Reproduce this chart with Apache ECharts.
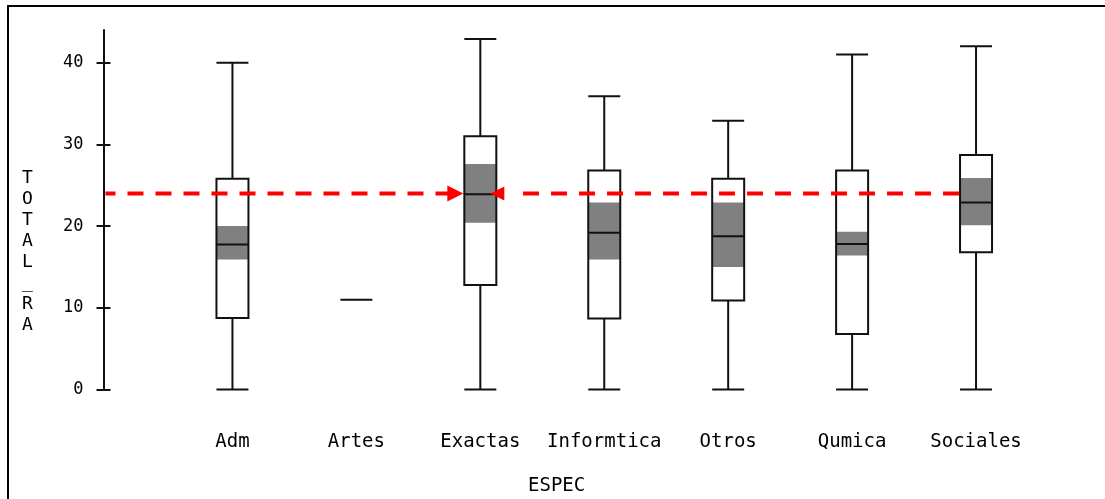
<!DOCTYPE html>
<html>
<head>
<meta charset="utf-8">
<script src="https://cdn.jsdelivr.net/npm/echarts@6/dist/echarts.min.js"></script>
<style>
html,body{margin:0;padding:0;background:#fff;}
#chart{width:1105px;height:499px;}
</style>
</head>
<body>
<div id="chart"></div>
<script>
// ---- data ----
var categories = ['Adm', 'Artes', 'Exactas', 'Informtica', 'Otros', 'Qumica', 'Sociales'];
// [min, Q1, median, Q3, max]
var boxValues = [
  [0, 8.75, 17.75, 25.8, 40],
  [11, 11, 11, 11, 11],
  [0, 12.8, 23.9, 31, 42.9],
  [0, 8.7, 19.2, 26.8, 35.9],
  [0, 10.9, 18.75, 25.8, 32.9],
  [0, 6.8, 17.8, 26.8, 41],
  [0, 16.8, 22.9, 28.7, 42]
];
// median confidence band [low, high] (null = none)
var notchLow  = [15.9, null, 20.4, 15.9, 15.0, 16.4, 20.1];
var notchHigh = [20.0, null, 27.6, 22.9, 22.9, 19.3, 25.9];
var yTicks = [0, 10, 20, 30, 40];
var refValue = 24;          // red dashed reference line
var refFrom = 2;            // arrow target category (Exactas)
var refTo = 6;              // right end category (Sociales)

// ---- layout constants ----
var AXIS_OFFSET = 67;
var BOX_W = 32;
var FONT = 'DejaVu Sans Mono';
var INK = '#111';

var notchData = [];
for (var i = 0; i < categories.length; i++) {
  if (notchLow[i] != null) notchData.push([i, notchLow[i], notchHigh[i]]);
}

var chart = echarts.init(document.getElementById('chart'), null, {renderer: 'canvas'});

var yAxisBase = {
  type: 'value', min: 0, max: 44, interval: 10,
  position: 'left', offset: AXIS_OFFSET,
  splitLine: {show: false}
};

chart.setOption({
  animation: false,
  backgroundColor: '#fff',
  grid: {left: 170.5, right: 67, top: 30, bottom: 109.5, containLabel: false},
  xAxis: {
    type: 'category', data: categories,
    axisLine: {show: false}, axisTick: {show: false},
    axisLabel: {margin: 43, fontFamily: FONT, fontSize: 19, color: '#000', interval: 0},
    splitLine: {show: false}
  },
  yAxis: [
    Object.assign({}, yAxisBase, {
      axisLine: {show: true, lineStyle: {color: INK, width: 2}},
      axisTick: {show: true, inside: false, length: 7, lineStyle: {color: INK, width: 2}, customValues: yTicks},
      axisLabel: {show: true, margin: 20, fontFamily: FONT, fontSize: 17, color: '#000', customValues: yTicks}
    }),
    Object.assign({}, yAxisBase, {
      axisLine: {show: false},
      axisTick: {show: true, inside: true, length: 7, lineStyle: {color: INK, width: 2}, customValues: yTicks},
      axisLabel: {show: false}
    })
  ],
  graphic: [
    {type: 'rect', shape: {x: 8, y: 6, width: 1200, height: 600}, style: {fill: 'none', stroke: '#000', lineWidth: 2}, silent: true, z: 0},
    {type: 'text', left: 22, top: 168, style: {text: 'T\nO\nT\nA\nL\n_\nR\nA', fontFamily: FONT, fontSize: 18, lineHeight: 21, fill: '#000', align: 'center'}},
    {type: 'text', left: 528, top: 477, style: {text: 'ESPEC', fontFamily: FONT, fontSize: 19, fill: '#000'}}
  ],
  series: [
    {
      type: 'custom', z: 1, silent: true,
      data: notchData,
      renderItem: function (params, api) {
        var lo = api.coord([api.value(0), api.value(1)]);
        var hi = api.coord([api.value(0), api.value(2)]);
        return {type: 'rect', shape: {x: lo[0] - BOX_W / 2, y: hi[1], width: BOX_W, height: lo[1] - hi[1]},
                style: {fill: '#808080'}};
      }
    },
    {
      type: 'boxplot', z: 2, silent: true,
      data: boxValues,
      boxWidth: [BOX_W, BOX_W],
      itemStyle: {color: 'rgba(0,0,0,0)', borderColor: INK, borderWidth: 2},
      emphasis: {disabled: true}
    },
    {
      type: 'custom', z: 3, silent: true,
      data: [[refFrom, refValue, refTo]],
      renderItem: function (params, api) {
        var a = api.coord([api.value(0), api.value(1)]);
        var b = api.coord([api.value(2), api.value(1)]);
        var y = a[1];
        var cx = a[0];
        var startX = params.coordSys.x - AXIS_OFFSET + 2;
        var red = '#ff0000';
        var dash = {stroke: red, lineWidth: 4, lineDash: [16, 12]};
        return {type: 'group', children: [
          {type: 'line', shape: {x1: startX, y1: y, x2: cx - 31, y2: y}, style: Object.assign({lineDashOffset: 6}, dash)},
          {type: 'polygon', shape: {points: [[cx - 33, y - 8], [cx - 17, y], [cx - 33, y + 8]]}, style: {fill: red}},
          {type: 'line', shape: {x1: b[0] - 17, y1: y, x2: cx + 37, y2: y}, style: Object.assign({lineDashOffset: 0}, dash)},
          {type: 'polygon', shape: {points: [[cx + 24, y - 7], [cx + 10, y], [cx + 24, y + 7]]}, style: {fill: red}}
        ]};
      }
    }
  ]
});
</script>
</body>
</html>
